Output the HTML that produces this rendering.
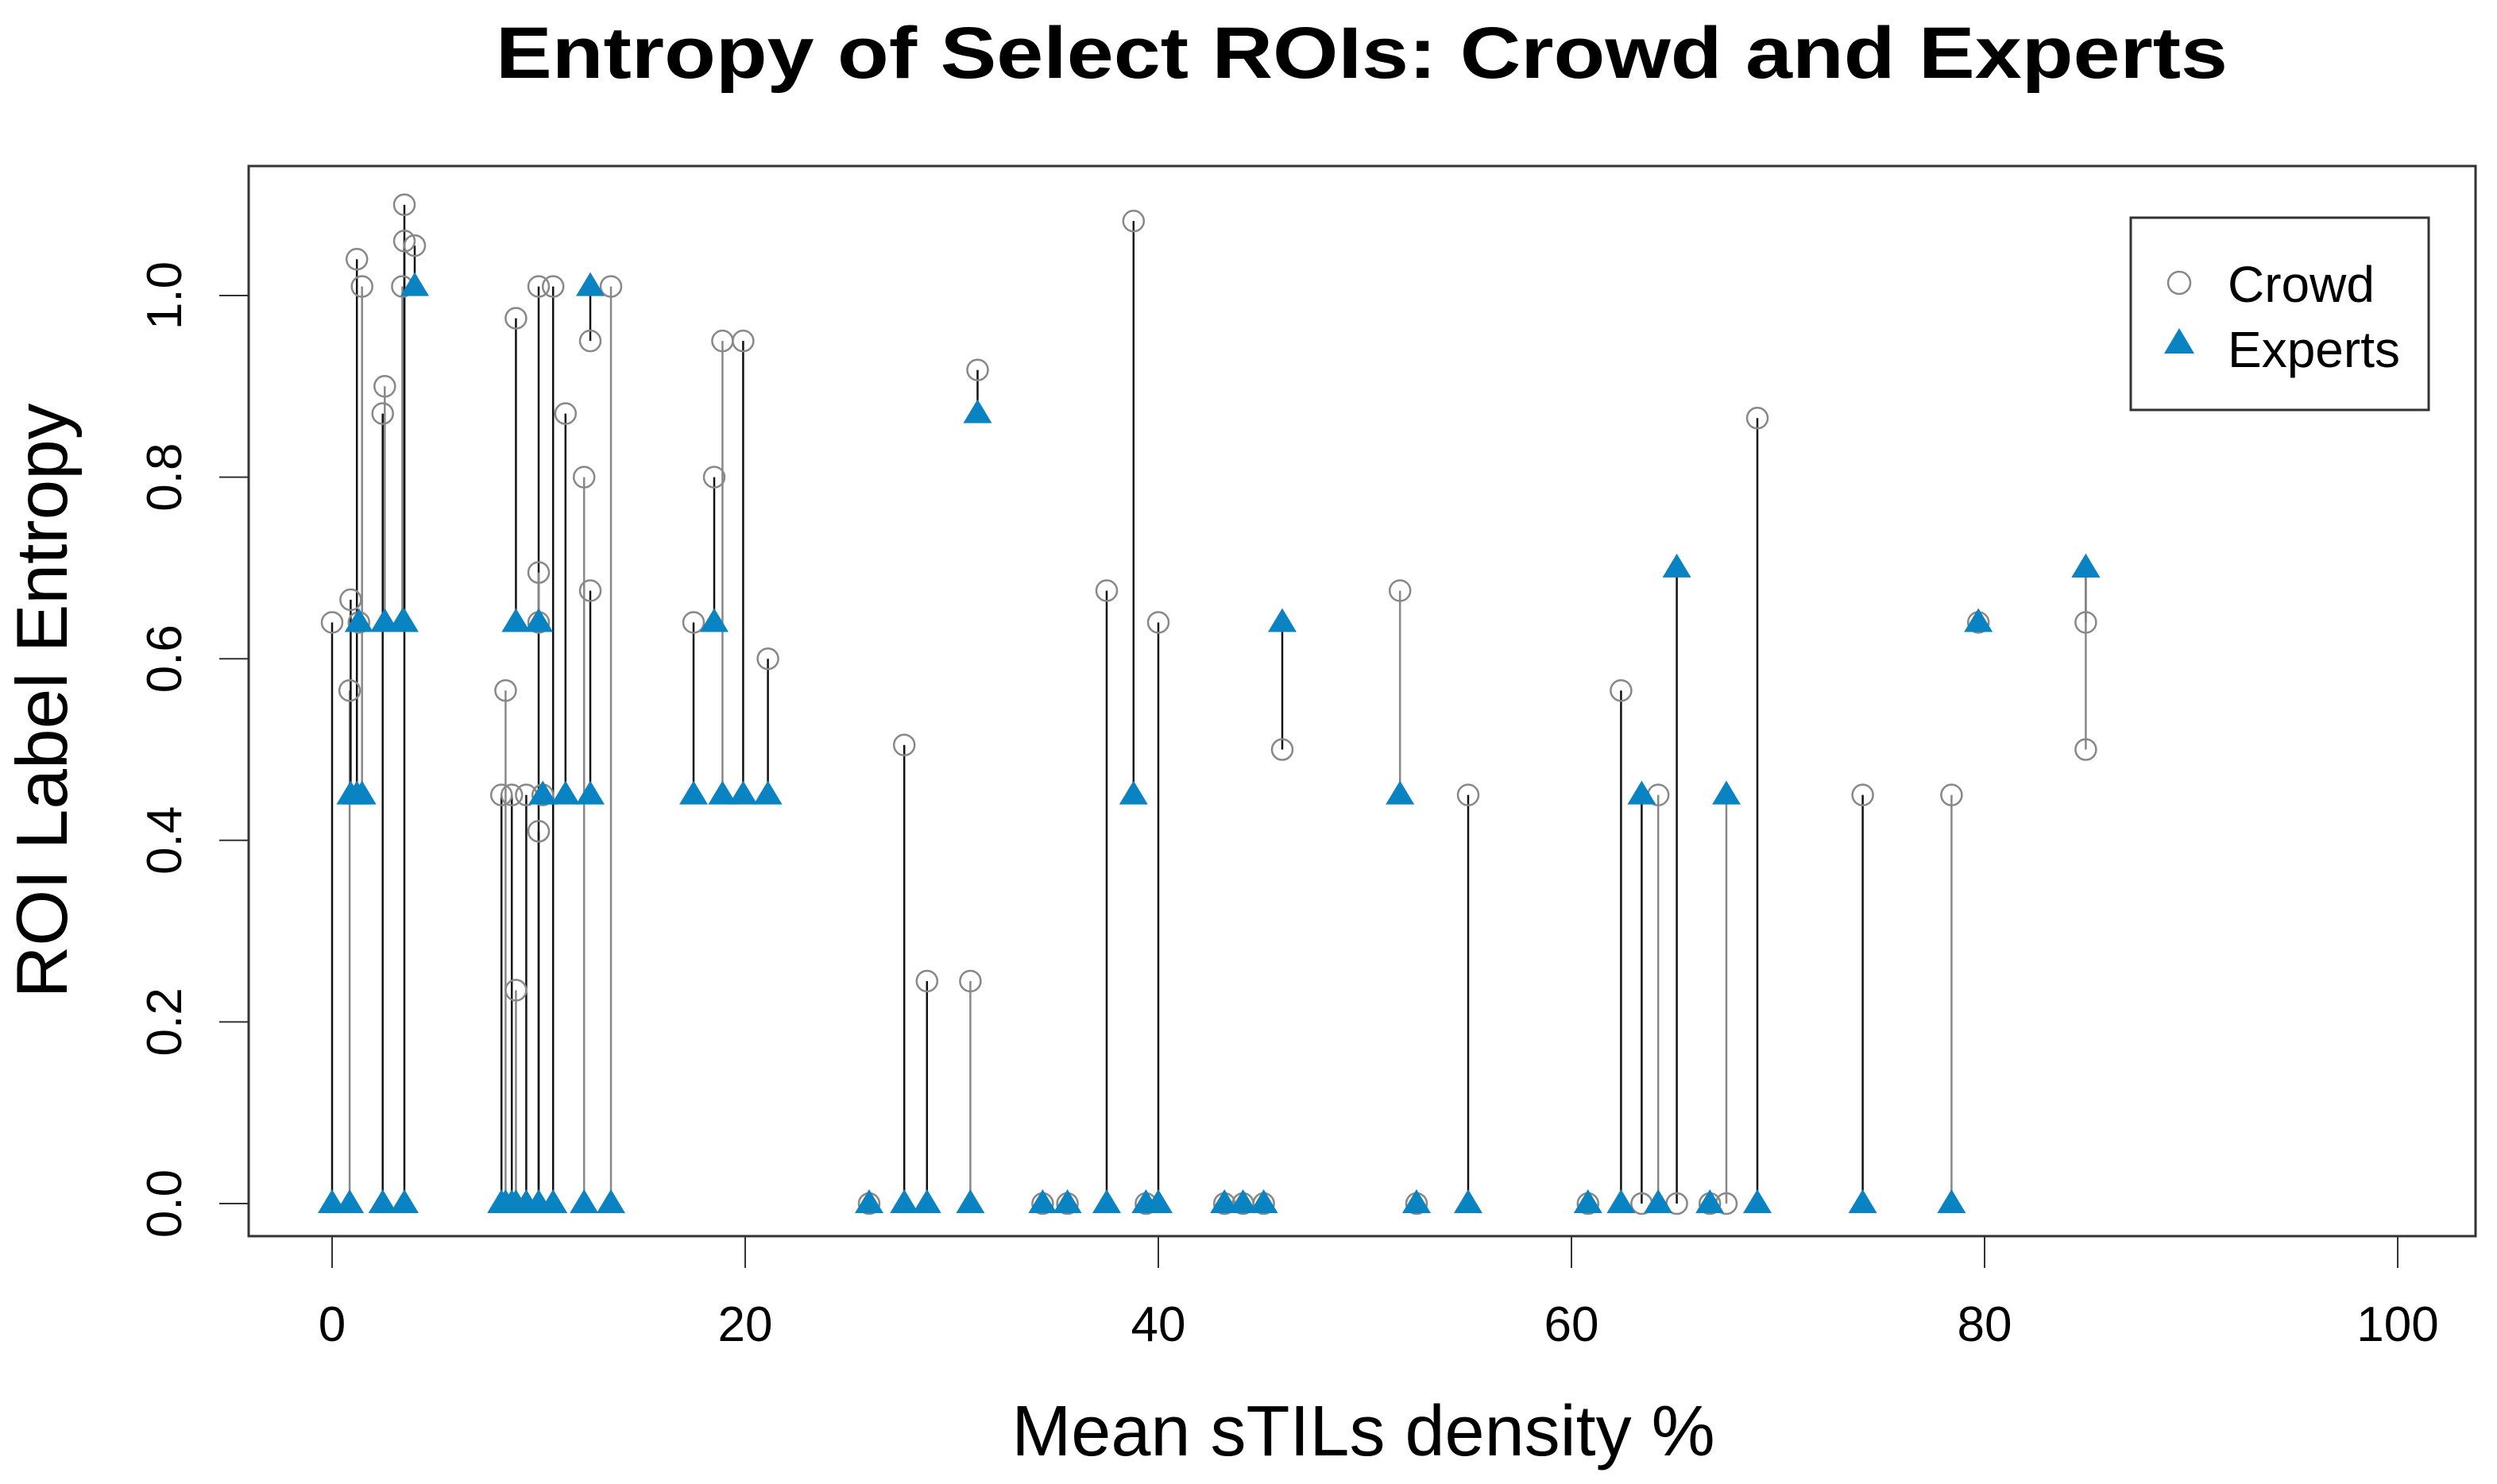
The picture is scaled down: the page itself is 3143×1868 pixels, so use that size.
<!DOCTYPE html>
<html><head><meta charset="utf-8"><style>
html,body{margin:0;padding:0;background:#fff;}
svg{display:block;font-family:"Liberation Sans",Arial,sans-serif;}
</style></head><body>
<svg id="chart" width="3143" height="1868" viewBox="0 0 3143 1868" xmlns="http://www.w3.org/2000/svg">
<rect width="3143" height="1868" fill="#fff"/>
<text x="1714" y="98" text-anchor="middle" font-size="92" font-weight="bold" textLength="2180" lengthAdjust="spacingAndGlyphs">Entropy of Select ROIs: Crowd and Experts</text>
<g id="marks"></g>
<rect x="313" y="209" width="2803" height="1347" fill="none" stroke="#333" stroke-width="3"/>
<g id="axes"></g>
<text x="1716" y="1832" text-anchor="middle" font-size="90">Mean sTILs density %</text>
<text transform="translate(84,882) rotate(-90)" text-anchor="middle" font-size="91">ROI Label Entropy</text>
<g>
<rect x="2682" y="274" width="375" height="242" fill="#fff" stroke="#333" stroke-width="3"/>
<circle cx="2743" cy="356" r="14" fill="none" stroke="#888" stroke-width="2.5"/>
<text x="2804" y="380" font-size="64">Crowd</text>
<polygon points="2724,445 2762,445 2743,413" fill="#0a83c2"/>
<text x="2804" y="462" font-size="64">Experts</text>
</g>
</svg>
<script>
const xValues = [0.0,0.85,0.9,1.2,1.45,1.3,2.45,2.55,3.5,3.5,3.4,4.0,
 8.2,8.4,8.7,8.9,8.9,9.4,10.0,10.0,10.0,10.0,10.2,10.7,11.3,12.2,12.5,12.5,13.5,
 17.5,18.5,18.9,19.9,21.1,
 26.0,27.7,28.8,30.9,31.25,34.4,35.6,37.5,38.8,39.4,40.0,43.2,44.1,45.1,46.0,51.7,52.5,55.0,
 60.8,62.4,63.4,64.2,65.1,66.7,67.5,69.0,74.1,78.4,79.7,84.9,84.9];
const crowdValues = [0.64,0.565,0.665,1.04,1.01,0.64,0.87,0.90,1.10,1.06,1.01,1.055,
 0.45,0.565,0.45,0.975,0.235,0.45,1.01,0.695,0.64,0.41,0.45,1.01,0.87,0.80,0.95,0.675,1.01,
 0.64,0.80,0.95,0.95,0.60,
 0,0.505,0.245,0.245,0.918,0,0,0.675,1.082,0,0.64,0,0,0,0.50,0.675,0,0.45,
 0,0.565,0,0.45,0,0,0,0.865,0.45,0.45,0.64,0.64,0.50];
const expertValues = [0,0,0.45,0.45,0.45,0.64,0,0.64,0,0.64,0.64,1.01,
 0,0,0,0.64,0,0,0,0.64,0.64,0,0.45,0,0.45,0,1.01,0.45,0,
 0.45,0.64,0.45,0.45,0.45,
 0,0,0,0,0.87,0,0,0,0.45,0,0,0,0,0,0.64,0.45,0,0,
 0,0,0.45,0,0.70,0,0.45,0,0,0,0.64,0.70,0.70];
const xTicks = [0,20,40,60,80,100];
const yTicks = [0.0,0.2,0.4,0.6,0.8,1.0];
const yTickLabels = ["0.0","0.2","0.4","0.6","0.8","1.0"];

const NS = "http://www.w3.org/2000/svg";
function sx(v){ return 418 + v * 26.0; }
function sy(v){ return 1515 - v * 1143; }
function mk(tag, attrs, parent){
  const e = document.createElementNS(NS, tag);
  for (const k in attrs) e.setAttribute(k, attrs[k]);
  parent.appendChild(e);
  return e;
}
const marks = document.getElementById('marks');
const axes = document.getElementById('axes');

for (let i = 0; i < xValues.length; i++) {
  const x = sx(xValues[i]);
  const l = mk('line', {x1:x, x2:x, y1:sy(crowdValues[i]), y2:sy(expertValues[i]), stroke:(i%3===1?'#888':'#111'), 'stroke-width':2.5}, marks);
  
  
}
for (let i = 0; i < xValues.length; i++) {
  const c = mk('circle', {cx:sx(xValues[i]), cy:sy(crowdValues[i]), r:13, fill:'none', stroke:'#888', 'stroke-width':2.5}, marks);
  
  
}
for (let i = 0; i < xValues.length; i++) {
  const x = sx(xValues[i]), y = sy(expertValues[i]);
  const p = mk('polygon', {points:(x-18)+','+(y+12)+' '+(x+18)+','+(y+12)+' '+x+','+(y-18), fill:'#0a83c2'}, marks);
  
  
}
for (let i = 0; i < xTicks.length; i++) {
  const x = sx(xTicks[i]);
  const t = mk('line', {x1:x, x2:x, y1:1556, y2:1596, stroke:'#333', 'stroke-width':2}, axes);
  
  
  const lb = mk('text', {x:x, y:1688, 'text-anchor':'middle', 'font-size':62}, axes);
  lb.textContent = String(xTicks[i]);
  
  
}
for (let i = 0; i < yTicks.length; i++) {
  const y = sy(yTicks[i]);
  const t = mk('line', {x1:276, x2:313, y1:y, y2:y, stroke:'#333', 'stroke-width':2}, axes);
  
  
  const lb = mk('text', {transform:'translate(228,'+y+') rotate(-90)', 'text-anchor':'middle', 'font-size':62}, axes);
  lb.textContent = yTickLabels[i];
  
  
}
</script>
</body></html>
